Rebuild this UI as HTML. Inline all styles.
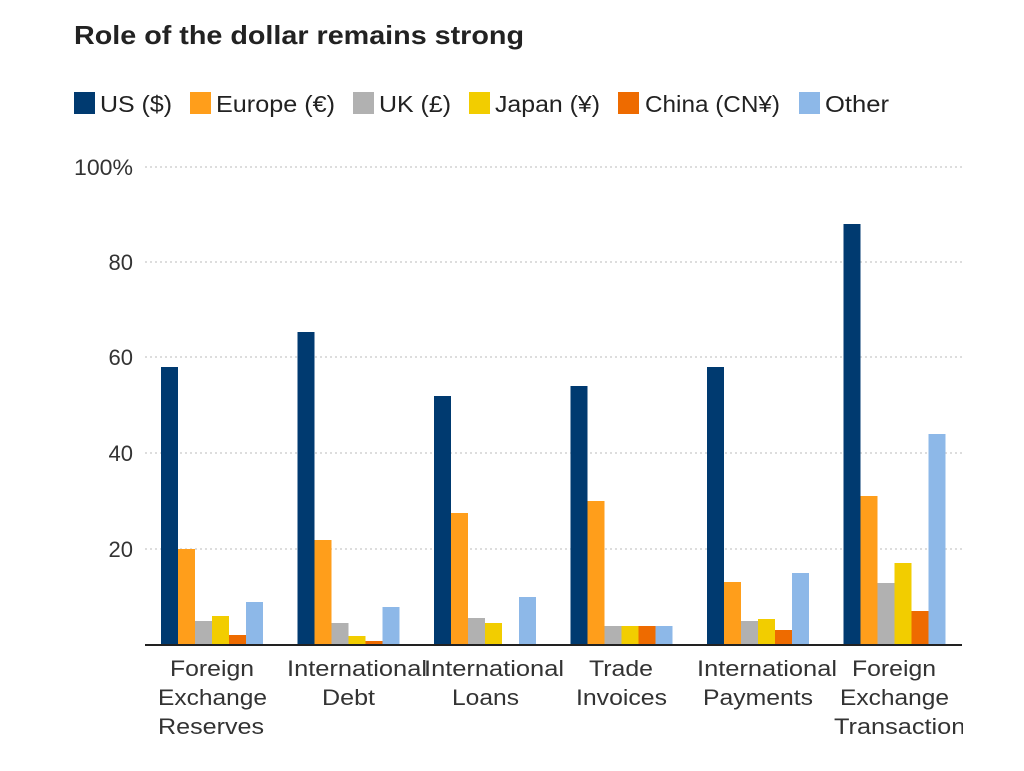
<!DOCTYPE html>
<html><head><meta charset="utf-8"><style>
html,body{margin:0;padding:0;background:#fff;}
svg{display:block;font-family:"Liberation Sans",sans-serif;}
</style></head><body>
<svg width="1024" height="771" viewBox="0 0 1024 771" xmlns="http://www.w3.org/2000/svg">
<defs><clipPath id="c"><rect x="0" y="0" width="963" height="771"/></clipPath></defs>
<text x="74" y="44" font-size="26" font-weight="bold" fill="#222" textLength="450" lengthAdjust="spacingAndGlyphs">Role of the dollar remains strong</text>
<g font-size="23" fill="#222">
<rect x="74" y="92" width="21" height="22" fill="#003a70"/><text x="100" y="112" textLength="72" lengthAdjust="spacingAndGlyphs">US ($)</text>
<rect x="190" y="92" width="21" height="22" fill="#ff9e1b"/><text x="216" y="112" textLength="119" lengthAdjust="spacingAndGlyphs">Europe (€)</text>
<rect x="353" y="92" width="21" height="22" fill="#b1b1b1"/><text x="379" y="112" textLength="72" lengthAdjust="spacingAndGlyphs">UK (£)</text>
<rect x="469" y="92" width="21" height="22" fill="#f2cd00"/><text x="495" y="112" textLength="105" lengthAdjust="spacingAndGlyphs">Japan (¥)</text>
<rect x="618" y="92" width="21" height="22" fill="#ee6b00"/><text x="645" y="112" textLength="135" lengthAdjust="spacingAndGlyphs">China (CN¥)</text>
<rect x="799" y="92" width="21" height="22" fill="#8db8e8"/><text x="825" y="112" textLength="64" lengthAdjust="spacingAndGlyphs">Other</text>
</g>
<g stroke="#bbb" stroke-width="1" stroke-dasharray="2,3">
<line x1="145" x2="962" y1="167" y2="167"/><line x1="145" x2="962" y1="262" y2="262"/>
<line x1="145" x2="962" y1="357" y2="357"/><line x1="145" x2="962" y1="453" y2="453"/>
<line x1="145" x2="962" y1="549" y2="549"/>
</g>
<g font-size="22" fill="#333" text-anchor="end">
<text x="133" y="175" textLength="59" lengthAdjust="spacingAndGlyphs">100%</text><text x="133" y="270">80</text><text x="133" y="365">60</text>
<text x="133" y="461">40</text><text x="133" y="557">20</text>
</g>
<g id="bars">
<rect x="161" y="367" width="17" height="278" fill="#003a70"/>
<rect x="178" y="549" width="17" height="96" fill="#ff9e1b"/>
<rect x="195" y="621" width="17" height="24" fill="#b1b1b1"/>
<rect x="212" y="616" width="17" height="29" fill="#f2cd00"/>
<rect x="229" y="635" width="17" height="10" fill="#ee6b00"/>
<rect x="246" y="602" width="17" height="43" fill="#8db8e8"/>
<rect x="297.5" y="332" width="17" height="313" fill="#003a70"/>
<rect x="314.5" y="540" width="17" height="105" fill="#ff9e1b"/>
<rect x="331.5" y="623" width="17" height="22" fill="#b1b1b1"/>
<rect x="348.5" y="636" width="17" height="9" fill="#f2cd00"/>
<rect x="365.5" y="641" width="17" height="4" fill="#ee6b00"/>
<rect x="382.5" y="607" width="17" height="38" fill="#8db8e8"/>
<rect x="434" y="396" width="17" height="249" fill="#003a70"/>
<rect x="451" y="513" width="17" height="132" fill="#ff9e1b"/>
<rect x="468" y="618" width="17" height="27" fill="#b1b1b1"/>
<rect x="485" y="623" width="17" height="22" fill="#f2cd00"/>
<rect x="519" y="597" width="17" height="48" fill="#8db8e8"/>
<rect x="570.5" y="386" width="17" height="259" fill="#003a70"/>
<rect x="587.5" y="501" width="17" height="144" fill="#ff9e1b"/>
<rect x="604.5" y="626" width="17" height="19" fill="#b1b1b1"/>
<rect x="621.5" y="626" width="17" height="19" fill="#f2cd00"/>
<rect x="638.5" y="626" width="17" height="19" fill="#ee6b00"/>
<rect x="655.5" y="626" width="17" height="19" fill="#8db8e8"/>
<rect x="707" y="367" width="17" height="278" fill="#003a70"/>
<rect x="724" y="582" width="17" height="63" fill="#ff9e1b"/>
<rect x="741" y="621" width="17" height="24" fill="#b1b1b1"/>
<rect x="758" y="619" width="17" height="26" fill="#f2cd00"/>
<rect x="775" y="630" width="17" height="15" fill="#ee6b00"/>
<rect x="792" y="573" width="17" height="72" fill="#8db8e8"/>
<rect x="843.5" y="224" width="17" height="421" fill="#003a70"/>
<rect x="860.5" y="496" width="17" height="149" fill="#ff9e1b"/>
<rect x="877.5" y="583" width="17" height="62" fill="#b1b1b1"/>
<rect x="894.5" y="563" width="17" height="82" fill="#f2cd00"/>
<rect x="911.5" y="611" width="17" height="34" fill="#ee6b00"/>
<rect x="928.5" y="434" width="17" height="211" fill="#8db8e8"/>
</g>
<line x1="145" x2="962" y1="645" y2="645" stroke="#222" stroke-width="2"/>
<g font-size="22" fill="#333" clip-path="url(#c)">
<text x="170" y="676" textLength="84" lengthAdjust="spacingAndGlyphs">Foreign</text>
<text x="158" y="705" textLength="109" lengthAdjust="spacingAndGlyphs">Exchange</text>
<text x="158" y="734" textLength="106" lengthAdjust="spacingAndGlyphs">Reserves</text>
<text x="287" y="676" textLength="140" lengthAdjust="spacingAndGlyphs">International</text>
<text x="322" y="705" textLength="53" lengthAdjust="spacingAndGlyphs">Debt</text>
<text x="424" y="676" textLength="140" lengthAdjust="spacingAndGlyphs">International</text>
<text x="452" y="705" textLength="67" lengthAdjust="spacingAndGlyphs">Loans</text>
<text x="589" y="676" textLength="64" lengthAdjust="spacingAndGlyphs">Trade</text>
<text x="576" y="705" textLength="91" lengthAdjust="spacingAndGlyphs">Invoices</text>
<text x="697" y="676" textLength="140" lengthAdjust="spacingAndGlyphs">International</text>
<text x="703" y="705" textLength="110" lengthAdjust="spacingAndGlyphs">Payments</text>
<text x="852" y="676" textLength="84" lengthAdjust="spacingAndGlyphs">Foreign</text>
<text x="840" y="705" textLength="109" lengthAdjust="spacingAndGlyphs">Exchange</text>
<text x="834" y="734" textLength="144" lengthAdjust="spacingAndGlyphs">Transactions</text>
</g>
</svg>
</body></html>
